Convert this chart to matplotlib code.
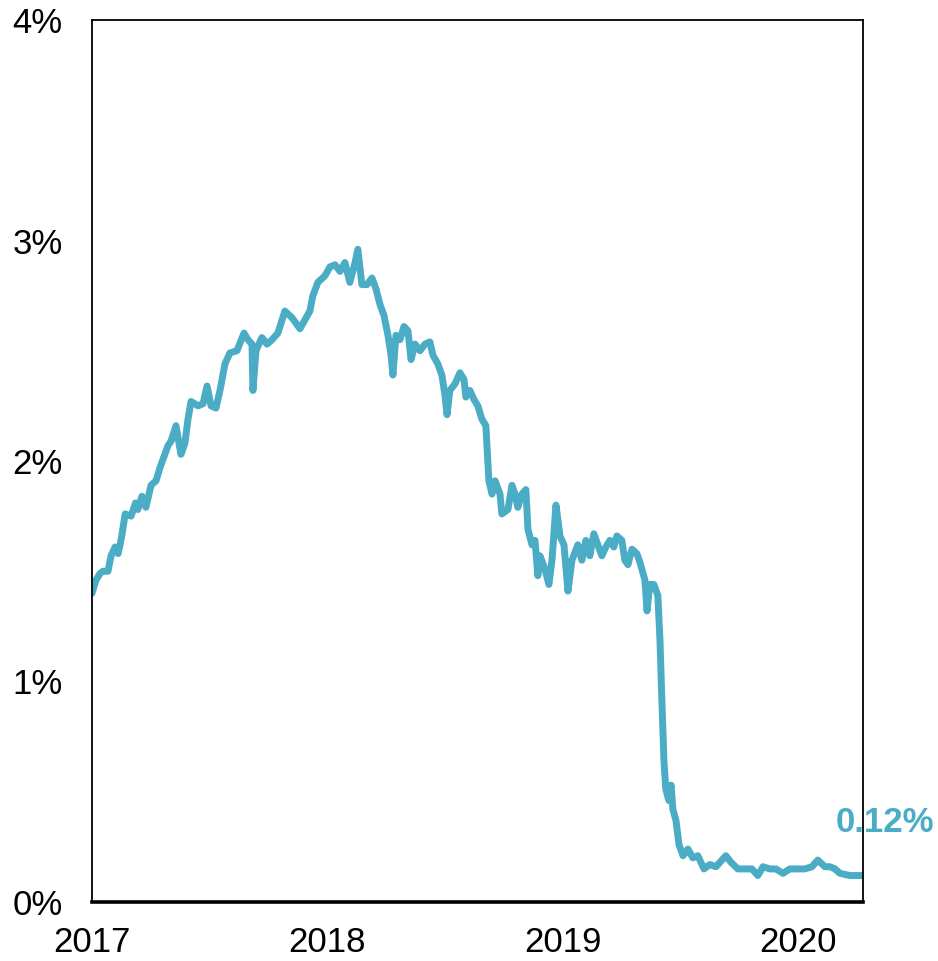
import matplotlib
matplotlib.use("Agg")
import matplotlib.pyplot as plt
from matplotlib.ticker import FixedLocator, FuncFormatter

# Time axis in years since 1 Jan 2017, yield in percent
years = [
    0.000, 0.017, 0.034, 0.047, 0.068, 0.081, 0.098, 0.111, 0.125, 0.141,
    0.166, 0.185, 0.195, 0.212, 0.229, 0.251, 0.272, 0.289, 0.323, 0.336,
    0.357, 0.378, 0.395, 0.408, 0.421, 0.451, 0.472, 0.489, 0.506, 0.527,
    0.544, 0.565, 0.586, 0.616, 0.646, 0.663,
    0.680, 0.684, 0.697, 0.722, 0.744, 0.765, 0.790, 0.820, 0.850, 0.884,
    0.905, 0.926, 0.939, 0.960, 0.990, 1.011, 1.033, 1.054, 1.075, 1.096,
    1.118, 1.130, 1.147, 1.169, 1.190, 1.207, 1.224, 1.241, 1.258, 1.271,
    1.279, 1.292, 1.309, 1.326, 1.343, 1.356, 1.373, 1.394, 1.415, 1.436,
    1.449, 1.470, 1.487, 1.500, 1.509, 1.521, 1.543, 1.564, 1.581, 1.589,
    1.606, 1.623, 1.640, 1.657, 1.674, 1.687, 1.700, 1.713, 1.734, 1.742,
    1.768, 1.785, 1.798, 1.810, 1.827, 1.844, 1.853, 1.870, 1.883, 1.895,
    1.904, 1.925, 1.942, 1.955, 1.972, 1.989, 2.006, 2.023, 2.040, 2.065,
    2.082, 2.099, 2.116, 2.133, 2.150, 2.167, 2.184, 2.201, 2.218, 2.231,
    2.252, 2.265, 2.278, 2.295, 2.316, 2.329, 2.350, 2.359, 2.371, 2.388,
    2.405, 2.414, 2.422, 2.431, 2.439, 2.452, 2.461, 2.469, 2.482, 2.495,
    2.512, 2.533, 2.554, 2.575, 2.601, 2.626, 2.652, 2.677, 2.694, 2.716,
    2.745, 2.775, 2.805, 2.830, 2.852, 2.881, 2.907, 2.937, 2.966, 2.996,
    3.030, 3.060, 3.085, 3.115, 3.136, 3.158, 3.179, 3.221, 3.277,
]
yields = [
    1.40, 1.46, 1.49, 1.50, 1.50, 1.57, 1.61, 1.58, 1.65, 1.76,
    1.75, 1.81, 1.78, 1.84, 1.79, 1.89, 1.91, 1.97, 2.07, 2.09,
    2.16, 2.03, 2.08, 2.19, 2.27, 2.25, 2.26, 2.34, 2.25, 2.24,
    2.32, 2.44, 2.49, 2.50, 2.58, 2.55,
    2.53, 2.32, 2.50, 2.56, 2.53, 2.55, 2.58, 2.68, 2.65, 2.60,
    2.64, 2.68, 2.75, 2.81, 2.84, 2.88, 2.89, 2.86, 2.90, 2.81,
    2.90, 2.96, 2.80, 2.80, 2.83, 2.78, 2.71, 2.66, 2.57, 2.48,
    2.39, 2.57, 2.55, 2.61, 2.59, 2.46, 2.53, 2.50, 2.53, 2.54,
    2.48, 2.44, 2.39, 2.30, 2.21, 2.32, 2.35, 2.40, 2.37, 2.29,
    2.32, 2.28, 2.25, 2.19, 2.16, 1.91, 1.85, 1.91, 1.85, 1.76,
    1.78, 1.89, 1.85, 1.79, 1.85, 1.87, 1.69, 1.62, 1.64, 1.48,
    1.57, 1.51, 1.44, 1.55, 1.80, 1.66, 1.62, 1.41, 1.55, 1.62,
    1.55, 1.64, 1.57, 1.67, 1.62, 1.57, 1.61, 1.64, 1.61, 1.66,
    1.64, 1.55, 1.53, 1.60, 1.58, 1.54, 1.46, 1.32, 1.44, 1.44,
    1.39, 1.19, 0.92, 0.64, 0.51, 0.46, 0.53, 0.42, 0.37, 0.26,
    0.21, 0.24, 0.20, 0.21, 0.15, 0.17, 0.16, 0.19, 0.21, 0.18,
    0.15, 0.15, 0.15, 0.12, 0.16, 0.15, 0.15, 0.13, 0.15, 0.15,
    0.15, 0.16, 0.19, 0.16, 0.16, 0.15, 0.13, 0.12, 0.12,
]
year_ticks = [2017, 2018, 2019, 2020]
pct_ticks = [0, 1, 2, 3, 4]
last_label = "0.12%"

line_color = "#4BACC6"
base_year = 2017

fig = plt.figure(figsize=(9.38, 9.61), dpi=100)
ax = fig.add_axes([92 / 938, 59 / 961, 771 / 938, 882 / 961])

x = [base_year + t for t in years]
ax.plot(x, yields, color=line_color, lw=5.0, solid_joinstyle="round",
        solid_capstyle="round")

ax.set_xlim(base_year, base_year + 3.277)
ax.set_ylim(0, 4)

ax.xaxis.set_major_locator(FixedLocator(year_ticks))
ax.xaxis.set_major_formatter(FuncFormatter(lambda v, p: f"{int(round(v))}"))
ax.yaxis.set_major_locator(FixedLocator(pct_ticks))
ax.yaxis.set_major_formatter(FuncFormatter(lambda v, p: f"{int(round(v))}%"))

ax.tick_params(axis="both", length=0)
ax.tick_params(axis="y", pad=21)
ax.tick_params(axis="x", pad=17)
for lab in ax.get_yticklabels():
    lab.set_fontfamily(["Liberation Sans", "DejaVu Sans"])
    lab.set_fontsize(25)
for lab in ax.get_xticklabels():
    lab.set_fontfamily(["Liberation Sans", "DejaVu Sans"])
    lab.set_fontsize(25)

for side in ("left", "top", "right"):
    ax.spines[side].set_linewidth(1.3)
    ax.spines[side].set_color("black")
ax.spines["bottom"].set_linewidth(2.6)
ax.spines["bottom"].set_color("black")

ax.annotate(last_label, xy=(x[-1], yields[-1]), xytext=(-20, 38),
            textcoords="offset points", ha="left", va="center",
            color=line_color, fontsize=25, fontweight="bold",
            family=["Liberation Sans", "DejaVu Sans"], annotation_clip=False)

fig.savefig("out.png", dpi=100)
